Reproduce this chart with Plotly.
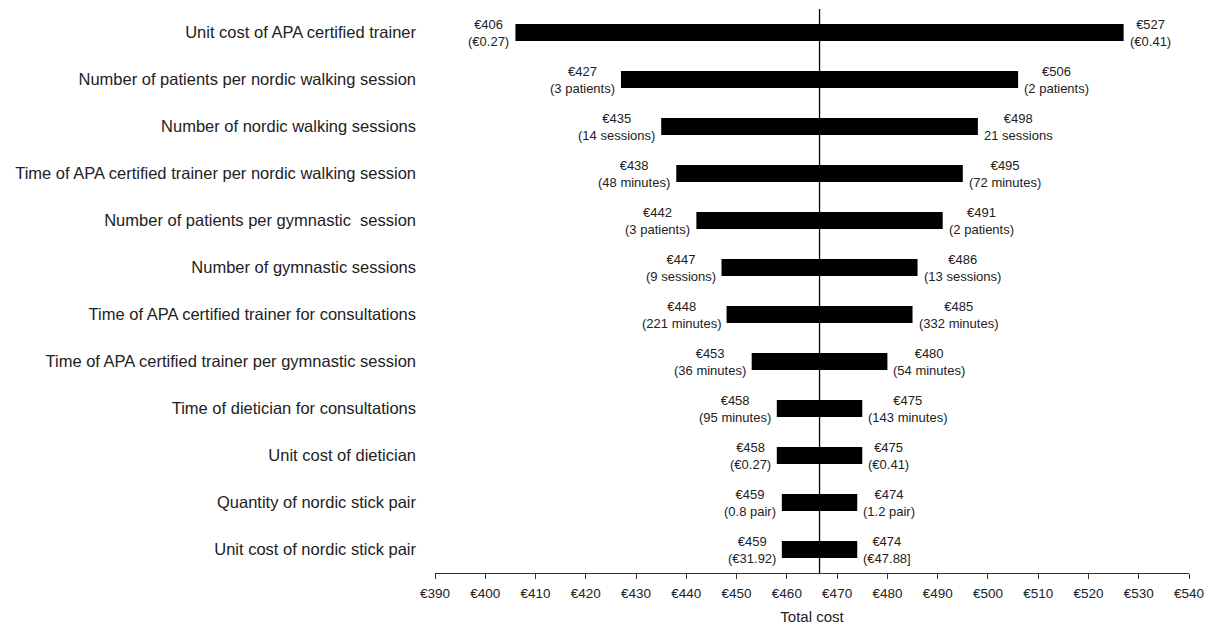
import plotly.graph_objects as go

parameters = [
    "Unit cost of APA certified trainer",
    "Number of patients per nordic walking session",
    "Number of nordic walking sessions",
    "Time of APA certified trainer per nordic walking session",
    "Number of patients per gymnastic  session",
    "Number of gymnastic sessions",
    "Time of APA certified trainer for consultations",
    "Time of APA certified trainer per gymnastic session",
    "Time of dietician for consultations",
    "Unit cost of dietician",
    "Quantity of nordic stick pair",
    "Unit cost of nordic stick pair",
]
low_cost = [406, 427, 435, 438, 442, 447, 448, 453, 458, 458, 459, 459]
high_cost = [527, 506, 498, 495, 491, 486, 485, 480, 475, 475, 474, 474]
low_input = ["(€0.27)", "(3 patients)", "(14 sessions)", "(48 minutes)", "(3 patients)",
             "(9 sessions)", "(221 minutes)", "(36 minutes)", "(95 minutes)", "(€0.27)",
             "(0.8 pair)", "(€31.92)"]
high_input = ["(€0.41)", "(2 patients)", "21 sessions", "(72 minutes)", "(2 patients)",
              "(13 sessions)", "(332 minutes)", "(54 minutes)", "(143 minutes)", "(€0.41)",
              "(1.2 pair)", "(€47.88]"]
base_cost = 466.5
tick_vals = list(range(390, 541, 10))
tick_text = [f"€{v}" for v in tick_vals]

FONT = "Liberation Sans"
TXT = "#222222"

fig = go.Figure()
fig.add_trace(go.Bar(
    y=parameters,
    x=[h - l for l, h in zip(low_cost, high_cost)],
    base=low_cost,
    orientation="h",
    marker=dict(color="black", line=dict(width=0)),
    width=0.36,
    hoverinfo="skip",
    showlegend=False,
))

for p, l, h, li, hi in zip(parameters, low_cost, high_cost, low_input, high_input):
    fig.add_annotation(x=l, y=p, xref="x", yref="y", text=f"€{l}<br>{li}",
                       showarrow=False, xanchor="right", align="center",
                       xshift=-4, font=dict(family=FONT, size=13, color=TXT))
    fig.add_annotation(x=h, y=p, xref="x", yref="y", text=f"€{h}<br>{hi}",
                       showarrow=False, xanchor="left", align="center",
                       xshift=4, font=dict(family=FONT, size=13, color=TXT))

fig.add_shape(type="line", x0=base_cost, x1=base_cost, xref="x", yref="paper",
              y0=0, y1=1, line=dict(color="black", width=1.3))

fig.update_layout(
    width=1212, height=628,
    margin=dict(l=435, r=23, t=9, b=55),
    plot_bgcolor="white", paper_bgcolor="white",
    font=dict(family=FONT, color=TXT),
    xaxis=dict(
        range=[390, 540], tickvals=tick_vals, ticktext=tick_text,
        showgrid=False, zeroline=False, automargin=False,
        showline=True, linecolor="#333333", linewidth=1.3,
        ticks="outside", ticklen=5, tickcolor="#333333", tickwidth=1.3,
        ticklabelstandoff=3,
        tickfont=dict(family=FONT, size=13.5, color=TXT),
        title=dict(text="Total cost", font=dict(family=FONT, size=15, color=TXT), standoff=11),
    ),
    yaxis=dict(
        categoryorder="array", categoryarray=parameters,
        autorange="reversed", automargin=False,
        showgrid=False, zeroline=False, showline=False, ticks="",
        tickfont=dict(family=FONT, size=16.5, color=TXT),
        ticklabelstandoff=18,
    ),
)

fig.write_html("out.html", config={"displayModeBar": False},
               post_script="document.body.style.margin='0';document.body.style.overflow='hidden';")
